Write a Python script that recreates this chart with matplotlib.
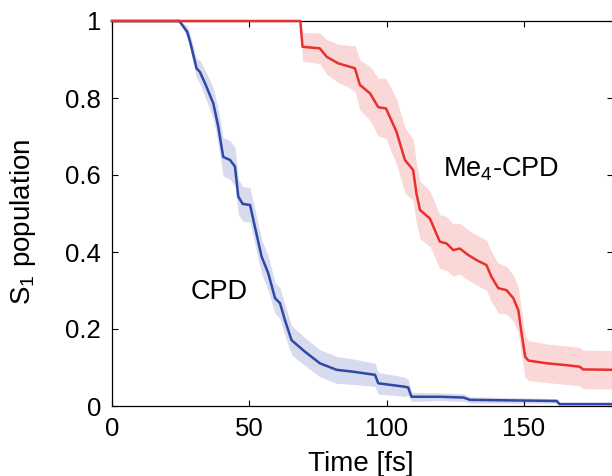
import matplotlib
matplotlib.use("Agg")
import matplotlib.pyplot as plt

plt.rcParams['font.family'] = ['Liberation Sans', 'DejaVu Sans']
plt.rcParams['mathtext.default'] = 'regular'

# CPD: mean S1 population and half-width of the shaded band
cpd_t = [0, 24.5, 27.4, 28.6, 30.8, 32.0, 33.9, 36.9, 38.7, 40.5, 43.0, 44.8, 46.0, 47.6,
         50.3, 51.5, 54.5, 56.9, 59.4, 61.2, 63.0, 65.4, 70.3, 75.7, 81.8, 87.9, 95.8,
         97.0, 106.7, 107.9, 109.1, 119.4, 128.0, 130.4, 162.0, 163.0, 183.0]
cpd_y = [1, 1, 0.972, 0.942, 0.877, 0.868, 0.838, 0.786, 0.726, 0.647, 0.639, 0.622, 0.544,
         0.525, 0.522, 0.483, 0.388, 0.345, 0.280, 0.267, 0.223, 0.171, 0.141, 0.111, 0.094,
         0.089, 0.081, 0.059, 0.050, 0.048, 0.024, 0.024, 0.022, 0.016, 0.013, 0.005, 0.005]
cpd_err = [0, 0, 0.015, 0.02, 0.025, 0.03, 0.035, 0.04, 0.045, 0.05, 0.05, 0.05, 0.045, 0.045,
           0.045, 0.045, 0.045, 0.045, 0.04, 0.04, 0.04, 0.038, 0.036, 0.035, 0.035, 0.033,
           0.03, 0.028, 0.025, 0.02, 0.012, 0.01, 0.01, 0.008, 0.006, 0.003, 0.003]

# Me4-CPD
me4_t = [0, 68.6, 69.4, 75.7, 78.2, 82.4, 86.7, 88.5, 90.3, 94.0, 97.0, 99.8, 103.6, 106.7,
         109.7, 110.9, 112.2, 115.8, 119.4, 121.9, 124.3, 126.7, 129.8, 132.8, 136.4, 138.2,
         140.7, 143.7, 146.2, 148.0, 149.2, 150.5, 151.7, 158.3, 165.6, 170.4, 171.6, 183.0]
me4_y = [1, 1, 0.933, 0.929, 0.907, 0.890, 0.881, 0.877, 0.834, 0.812, 0.776, 0.773, 0.713,
         0.639, 0.613, 0.552, 0.509, 0.487, 0.427, 0.422, 0.405, 0.409, 0.392, 0.379, 0.366,
         0.336, 0.306, 0.301, 0.280, 0.249, 0.189, 0.128, 0.118, 0.111, 0.106, 0.102, 0.095,
         0.094]
me4_err = [0, 0, 0.037, 0.04, 0.045, 0.05, 0.055, 0.06, 0.065, 0.07, 0.075, 0.078, 0.085,
           0.085, 0.08, 0.078, 0.075, 0.072, 0.07, 0.07, 0.068, 0.066, 0.065, 0.065, 0.065,
           0.065, 0.065, 0.062, 0.06, 0.06, 0.058, 0.055, 0.052, 0.05, 0.05, 0.05, 0.05, 0.05]

xticks = [0, 50, 100, 150]
yticks = [0, 0.2, 0.4, 0.6, 0.8, 1]
ytick_labels = ['0', '0.2', '0.4', '0.6', '0.8', '1']

blue, blue_band = '#2e48a6', '#d8daee'
red, red_band = '#e8302e', '#fbd8d8'

fig = plt.figure(figsize=(6.12, 4.76), dpi=100)
ax = fig.add_axes([112/612, 70/476, 501/612, 385/476])

lo = [y - e for y, e in zip(cpd_y, cpd_err)]
hi = [y + e for y, e in zip(cpd_y, cpd_err)]
ax.fill_between(cpd_t, lo, hi, color=blue_band, lw=0)
lo = [y - e for y, e in zip(me4_y, me4_err)]
hi = [y + e for y, e in zip(me4_y, me4_err)]
ax.fill_between(me4_t, lo, hi, color=red_band, lw=0)

ax.plot(cpd_t, cpd_y, color=blue, lw=1.8, clip_on=False, zorder=3)
ax.plot(me4_t, me4_y, color=red, lw=1.8, clip_on=False, zorder=4)

ax.set_xlim(0, 182.5)
ax.set_ylim(0, 1)
ax.set_xticks(xticks)
ax.set_yticks(yticks)
ax.set_yticklabels(ytick_labels)
ax.tick_params(direction='in', top=True, right=True, length=4, width=0.8, labelsize=18.5)
ax.tick_params(axis='x', pad=8)
ax.tick_params(axis='y', pad=8)
for s in ax.spines.values():
    s.set_linewidth(0.9)

ax.text(28.8, 0.277, 'CPD', fontsize=19.5, ha='left', va='baseline')
ax.text(120.5, 0.595, 'Me$_4$-CPD', fontsize=19.5, ha='left', va='baseline')

fig.text(361/612, 1 - 464/476, 'Time [fs]', fontsize=20, ha='center', va='center')
fig.text(23/612, 1 - 222/476, 'S$_1$ population', fontsize=20, rotation=90,
         ha='center', va='center')

fig.savefig('out.png', dpi=100)
